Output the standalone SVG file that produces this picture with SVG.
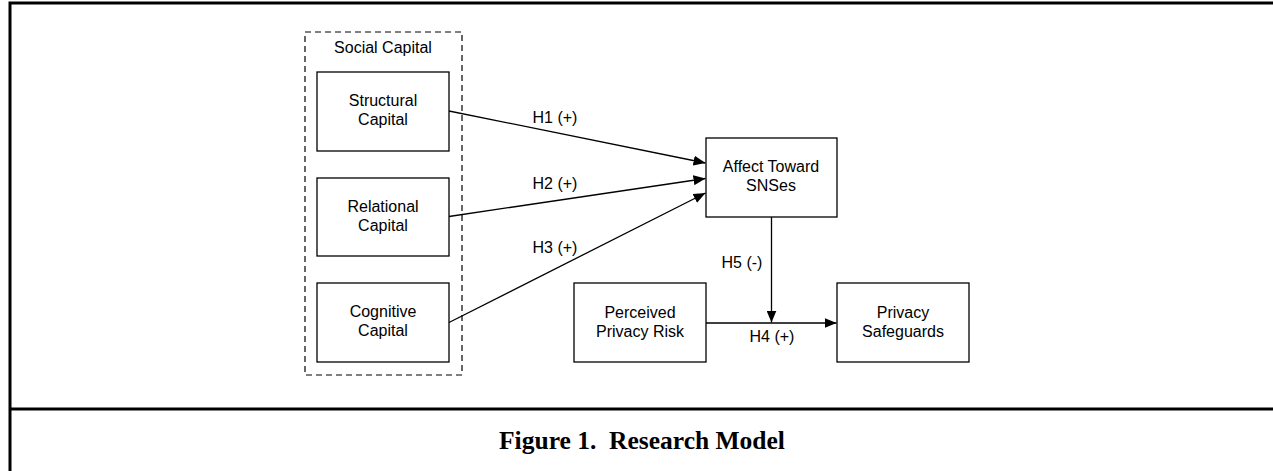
<svg xmlns="http://www.w3.org/2000/svg" width="1273" height="471" viewBox="0 0 1273 471">
<style>
.frame{stroke:#000;stroke-width:3;fill:none}
.box{fill:#fff;stroke:#000;stroke-width:1.3}
.dash{fill:none;stroke:#000;stroke-width:1.2;stroke-dasharray:6,4}
.lbl{font-family:"Liberation Sans",Arial,sans-serif;font-size:16px;fill:#000;text-anchor:middle}
.edge{stroke:#000;stroke-width:1.3;fill:none;marker-end:url(#arr)}
.cap{font-family:"Liberation Serif","Times New Roman",serif;font-size:25.5px;font-weight:bold;fill:#000;text-anchor:middle}
</style>
<defs>
<marker id="arr" viewBox="0 0 12 10" refX="12" refY="5" markerWidth="12" markerHeight="10" markerUnits="userSpaceOnUse" orient="auto">
<path d="M0,0 L12,5 L0,10 z" fill="#000"/>
</marker>
</defs>
<rect width="1273" height="471" fill="#fff"/>
<g id="frame">
<path class="frame" d="M10,471 L10,3 L1273,3"/>
<path class="frame" d="M10,409 L1273,409"/>
</g>
<g id="social-capital">
<rect class="dash" x="305" y="32" width="157" height="343"/>
<text class="lbl" x="383" y="53">Social Capital</text>
</g>
<g id="structural">
<rect class="box" x="317" y="72" width="132" height="79"/>
<text class="lbl" x="383" y="106">Structural</text>
<text class="lbl" x="383" y="125">Capital</text>
</g>
<g id="relational">
<rect class="box" x="317" y="178" width="132" height="78"/>
<text class="lbl" x="383" y="212">Relational</text>
<text class="lbl" x="383" y="231">Capital</text>
</g>
<g id="cognitive">
<rect class="box" x="317" y="283" width="132" height="79"/>
<text class="lbl" x="383" y="317">Cognitive</text>
<text class="lbl" x="383" y="336">Capital</text>
</g>
<g id="affect">
<rect class="box" x="706" y="138" width="131" height="79"/>
<text class="lbl" x="771" y="172">Affect Toward</text>
<text class="lbl" x="771" y="191">SNSes</text>
</g>
<g id="perceived">
<rect class="box" x="574" y="283" width="132" height="79"/>
<text class="lbl" x="640" y="318">Perceived</text>
<text class="lbl" x="640" y="337">Privacy Risk</text>
</g>
<g id="safeguards">
<rect class="box" x="837" y="283" width="132" height="79"/>
<text class="lbl" x="903" y="318">Privacy</text>
<text class="lbl" x="903" y="337">Safeguards</text>
</g>
<g id="connectors">
<line class="edge" x1="449" y1="111" x2="705.5" y2="163"/>
<line class="edge" x1="449" y1="216.5" x2="705.5" y2="178.5"/>
<line class="edge" x1="449" y1="322.5" x2="705.5" y2="193"/>
<line class="edge" x1="706" y1="323" x2="836.5" y2="323"/>
<line class="edge" x1="771.5" y1="217" x2="771.5" y2="322.5"/>
<text class="lbl" x="555" y="123">H1 (+)</text>
<text class="lbl" x="555" y="189">H2 (+)</text>
<text class="lbl" x="555" y="253">H3 (+)</text>
<text class="lbl" x="742" y="268">H5 (-)</text>
<text class="lbl" x="772" y="342">H4 (+)</text>
</g>
<g id="caption">
<text class="cap" x="642" y="449">Figure 1.&#160; Research Model</text>
</g>
</svg>
